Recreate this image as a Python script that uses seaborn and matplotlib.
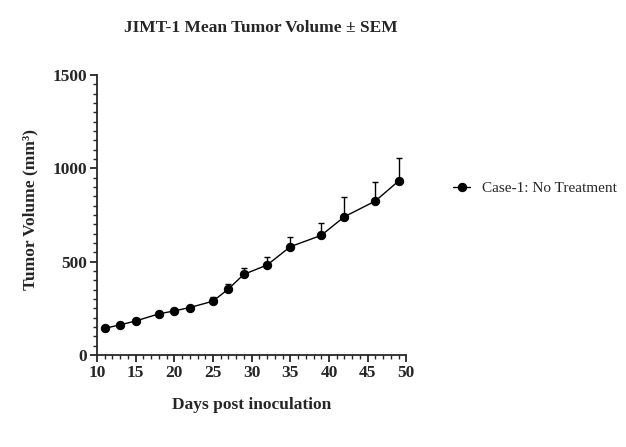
import numpy as np
import pandas as pd
import matplotlib
matplotlib.use("Agg")
import matplotlib.pyplot as plt
from matplotlib.ticker import MultipleLocator
import seaborn as sns

days = [11, 13, 15, 18, 20, 22, 25, 27, 29, 32, 35, 39, 42, 46, 49]
mean_vol = [143, 161, 182, 220, 236, 254, 288, 354, 432, 482, 580, 641, 741, 825, 932]
sem_vol = [5, 6, 8, 9, 10, 10, 25, 25, 32, 41, 54, 68, 104, 102, 123]
group = 'Case-1: No Treatment'

sns.set_style("ticks")
plt.rcParams['font.family'] = ['Liberation Serif', 'DejaVu Serif']

df = pd.DataFrame({'Day': days, 'Volume': mean_vol, 'SEM': sem_vol})
df['Group'] = group

fig = plt.figure(figsize=(6.26, 4.47), dpi=100)
ax = fig.add_axes([0.155, 0.206, 0.494, 0.626])

# upper-only error bars, prism style
ax.errorbar(df.Day, df.Volume, yerr=[np.zeros(len(df)), df.SEM], fmt='none',
            ecolor='black', elinewidth=1, capsize=2.5, capthick=1, zorder=2)
sns.lineplot(data=df, x='Day', y='Volume', hue='Group', palette=['black'],
             marker='o', markersize=6, linewidth=1, markeredgecolor='black',
             ax=ax, zorder=3)

ax.set_xlim(10, 50)
ax.set_ylim(0, 1500)
ax.xaxis.set_major_locator(MultipleLocator(5))
ax.xaxis.set_minor_locator(MultipleLocator(1))
ax.yaxis.set_major_locator(MultipleLocator(500))
ax.yaxis.set_minor_locator(MultipleLocator(50))
ax.tick_params(which='major', length=5, width=1.3, labelsize=12.5, pad=2)
ax.tick_params(which='minor', length=3, width=1)
for lab in ax.get_xticklabels() + ax.get_yticklabels():
    lab.set_fontweight('bold')
sns.despine(ax=ax)
for s in ['left', 'bottom']:
    ax.spines[s].set_linewidth(1.3)

ax.set_xlabel('Days post inoculation', fontsize=12.5, fontweight='bold', labelpad=12)
ax.set_ylabel('Tumor Volume (mm³)', fontsize=12.5, fontweight='bold')
ax.yaxis.set_label_coords(-0.19, 0.52)
fig.text(0.416, 0.937, 'JIMT-1 Mean Tumor Volume ± SEM', ha='center', va='center',
         fontsize=12.5, fontweight='bold')

ax.legend(loc='center left', bbox_to_anchor=(1.127, 0.596), frameon=False,
          fontsize=11, handlelength=1.1, handletextpad=0.8, borderpad=0)

fig.savefig('out.png', dpi=100)
